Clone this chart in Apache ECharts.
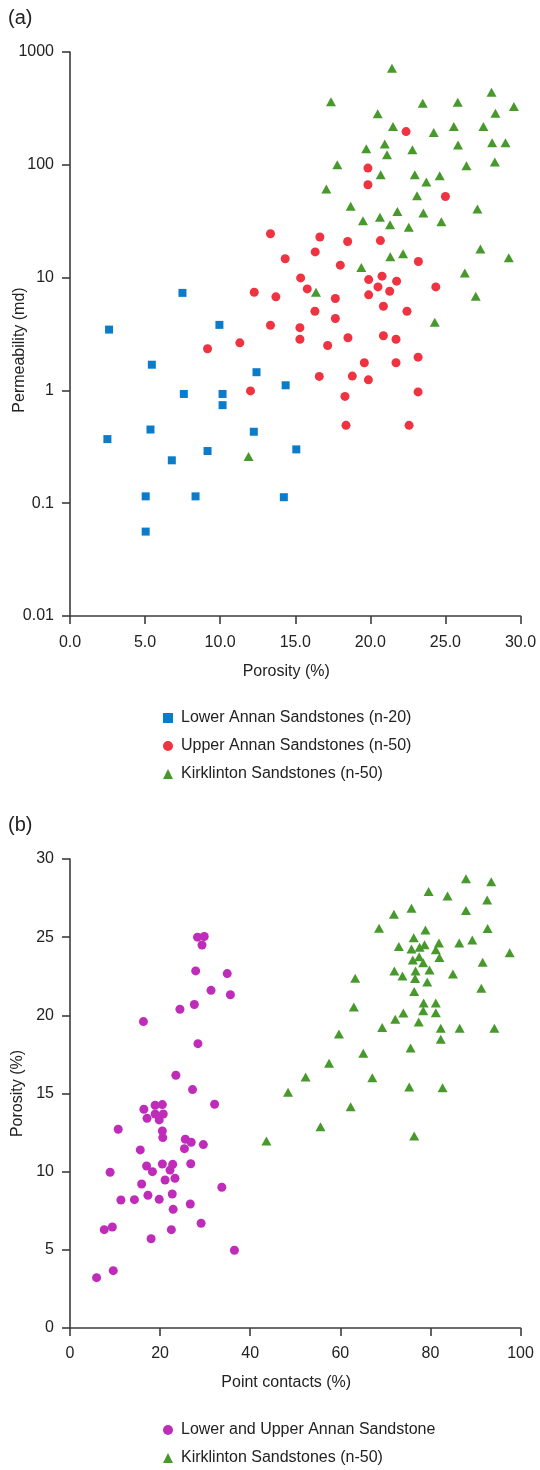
<!DOCTYPE html>
<html>
<head>
<meta charset="utf-8">
<script src="https://cdn.jsdelivr.net/npm/echarts@6/dist/echarts.min.js"></script>
<style>
  html, body { margin: 0; padding: 0; background: #fff; }
  #chart { width: 540px; height: 1470px; }
</style>
</head>
<body>
<div id="chart"></div>
<script>
// panel (a): porosity (%) vs permeability (md)
const lowerAnnan = [
  [2.6, 3.46], [9.95, 3.81], [5.45, 1.69], [12.42, 1.45], [7.58, 0.93], [10.16, 0.93],
  [10.16, 0.74], [2.49, 0.37], [5.36, 0.45], [12.24, 0.43], [9.16, 0.29], [6.78, 0.24],
  [5.04, 0.115], [8.36, 0.115], [5.04, 0.056], [7.49, 7.32], [14.36, 1.11], [15.07, 0.30],
  [14.24, 0.113]
]
const upperAnnan = [
  [22.38, 197], [19.84, 93.5], [19.84, 66.5], [25.0, 52.4], [13.35, 24.5], [16.64, 22.9],
  [18.49, 20.9], [20.67, 21.3], [16.33, 16.9], [14.33, 14.7], [18.0, 12.9], [23.2, 13.9],
  [15.36, 9.94], [19.89, 9.6], [20.78, 10.3], [21.75, 9.3], [15.8, 7.94], [20.51, 8.27],
  [24.36, 8.27], [12.27, 7.41], [13.71, 6.75], [17.67, 6.52], [19.89, 7.03], [21.29, 7.57],
  [16.31, 5.03], [20.87, 5.57], [22.44, 5.03], [17.67, 4.34], [13.35, 3.78], [15.31, 3.6],
  [15.31, 2.84], [17.16, 2.5], [18.51, 2.93], [20.87, 3.05], [21.71, 2.84], [23.18, 1.97],
  [19.6, 1.76], [21.71, 1.76], [16.6, 1.33], [18.8, 1.34], [19.87, 1.24], [18.31, 0.885],
  [23.18, 0.97], [18.38, 0.49], [22.58, 0.49], [9.16, 2.34], [11.31, 2.64], [12.02, 0.99]
]
const kirklintonA = [
  [21.44, 718], [17.38, 363], [23.49, 352], [25.82, 359], [28.07, 440], [29.56, 328],
  [28.33, 287], [20.49, 283], [21.51, 218], [24.22, 193], [25.56, 218], [27.53, 218],
  [19.73, 139], [20.96, 153], [21.11, 123], [22.8, 136], [25.84, 150], [28.11, 157],
  [29.0, 157], [17.8, 100], [26.4, 98], [28.29, 106], [20.69, 81.6], [22.96, 81.6],
  [24.62, 80], [23.73, 70.3], [17.07, 61], [23.11, 53.2], [18.69, 42.8], [21.8, 38.6],
  [23.53, 37.4], [27.13, 40.5], [19.51, 31.9], [20.64, 34.2], [21.31, 29.4], [22.56, 27.9],
  [24.73, 31.3], [21.33, 15.3], [22.18, 16.3], [19.4, 12.3], [27.33, 17.9], [29.22, 15.0],
  [26.29, 11.0], [27.02, 6.83], [16.38, 7.41], [24.29, 4.02], [11.89, 0.26]
]

// panel (b): point contacts (%) vs porosity (%)
const annanContacts = [
  [28.3, 25.0], [29.8, 25.04], [29.3, 24.5], [27.9, 22.84], [34.9, 22.67], [31.3, 21.6],
  [35.6, 21.32], [27.6, 20.69], [24.4, 20.39], [16.3, 19.6], [28.4, 18.19], [23.5, 16.17],
  [27.2, 15.25], [32.1, 14.31], [16.4, 13.99], [18.9, 14.25], [20.5, 14.29], [17.1, 13.41],
  [18.9, 13.69], [20.7, 13.69], [19.8, 13.31], [10.7, 12.71], [20.5, 12.6], [20.6, 12.18],
  [25.6, 12.07], [26.9, 11.88], [29.6, 11.73], [25.4, 11.47], [15.6, 11.39], [8.9, 9.96],
  [17.0, 10.36], [18.3, 10.0], [20.5, 10.49], [22.8, 10.47], [22.2, 10.1], [26.8, 10.51],
  [21.1, 9.47], [23.3, 9.58], [15.9, 9.21], [33.7, 9.0], [11.3, 8.19], [14.3, 8.21],
  [17.3, 8.49], [19.8, 8.23], [22.7, 8.57], [22.9, 7.59], [26.7, 7.93], [29.1, 6.7],
  [7.6, 6.29], [9.4, 6.46], [22.5, 6.29], [18.0, 5.71], [36.5, 4.97], [5.9, 3.22], [9.6, 3.67]
]
const kirklintonB = [
  [87.9, 28.73], [93.5, 28.54], [79.6, 27.92], [83.8, 27.64], [92.6, 27.38], [75.8, 26.85],
  [87.9, 26.7], [71.9, 26.47], [68.6, 25.57], [92.7, 25.55], [78.9, 25.46], [76.3, 24.97],
  [73.0, 24.4], [75.8, 24.25], [77.6, 24.36], [78.7, 24.52], [81.9, 24.63], [81.2, 24.2],
  [86.4, 24.63], [89.3, 24.82], [97.6, 24.01], [77.5, 23.74], [76.1, 23.54], [82.0, 23.7],
  [78.4, 23.37], [91.6, 23.4], [72.0, 22.84], [73.8, 22.52], [76.7, 22.84], [79.8, 22.9],
  [85.0, 22.65], [76.6, 22.35], [79.3, 22.14], [63.3, 22.37], [91.3, 21.73], [76.4, 21.52],
  [78.5, 20.79], [81.2, 20.79], [63.0, 20.54], [78.4, 20.3], [81.2, 20.17], [74.0, 20.15],
  [72.2, 19.75], [77.4, 19.58], [69.3, 19.22], [82.3, 19.17], [86.5, 19.17], [94.2, 19.17],
  [82.3, 18.47], [59.7, 18.81], [75.6, 17.91], [65.1, 17.57], [57.5, 16.94], [52.3, 16.06],
  [67.1, 16.01], [48.4, 15.08], [75.3, 15.42], [82.7, 15.37], [62.3, 14.16], [55.6, 12.88],
  [43.6, 11.96], [76.4, 12.28]
]

const permLabels = ['0.01', '0.1', '1', '10', '100', '1000']

const nameA = ['Lower Annan Sandstones (n-20)', 'Upper Annan Sandstones (n-50)', 'Kirklinton Sandstones (n-50)']
const nameB = ['Lower and Upper Annan Sandstone', 'Kirklinton Sandstones (n-50)']

const BLUE = '#0a7cc9'
const RED = '#ef3340'
const GREEN = '#47992c'
const MAGENTA = '#c02cba'
const INK = '#222'
const AXIS = '#3c3c3c'
const FONT = '"Liberation Sans", Arial, sans-serif'

function axisBase () {
  return {
    axisLine: { show: true, onZero: false, lineStyle: { color: AXIS, width: 1.6 } },
    axisTick: { show: true, length: 8, lineStyle: { color: AXIS, width: 1.6 } },
    splitLine: { show: false },
    axisLabel: { color: INK, fontSize: 16, fontFamily: FONT, margin: 16 },
    nameTextStyle: { color: INK, fontSize: 16, fontFamily: FONT }
  }
}

function merge (a, b) {
  const out = Object.assign({}, a)
  Object.keys(b).forEach(k => {
    if (b[k] && typeof b[k] === 'object' && !Array.isArray(b[k]) && a[k]) {
      out[k] = merge(a[k], b[k])
    } else {
      out[k] = b[k]
    }
  })
  return out
}

function legendBox (top, items) {
  return {
    orient: 'vertical', left: 163, top: top, padding: 0,
    itemWidth: 10, itemHeight: 10, itemGap: 8,
    data: items,
    textStyle: { color: INK, fontSize: 16, fontFamily: FONT, lineHeight: 20, padding: [0, 0, 0, 3] }
  }
}

const chart = echarts.init(document.getElementById('chart'), null, { renderer: 'canvas' })

chart.setOption({
  animation: false,
  backgroundColor: '#fff',
  grid: [
    { left: 70, top: 52, width: 450.5, height: 564, containLabel: false, outerBoundsMode: 'none' },
    { left: 70, top: 859, width: 450.5, height: 469, containLabel: false, outerBoundsMode: 'none' }
  ],
  xAxis: [
    merge(axisBase(), {
      gridIndex: 0, type: 'value', min: 0, max: 30, interval: 5,
      name: 'Porosity (%)', nameLocation: 'middle', nameGap: 48,
      nameTextStyle: { padding: [0, 18, 0, 0] },
      axisLabel: { formatter: v => v.toFixed(1), margin: 19 }
    }),
    merge(axisBase(), {
      gridIndex: 1, type: 'value', min: 0, max: 100, interval: 20,
      name: 'Point contacts (%)', nameLocation: 'middle', nameGap: 47,
      nameTextStyle: { padding: [0, 18, 0, 0] },
      axisLabel: { margin: 18 }
    })
  ],
  yAxis: [
    merge(axisBase(), {
      gridIndex: 0, type: 'log', logBase: 10, min: 0.01, max: 1000,
      axisLabel: { formatter: v => permLabels[Math.round(Math.log10(v)) + 2] }
    }),
    merge(axisBase(), {
      gridIndex: 1, type: 'value', min: 0, max: 30, interval: 5,
      name: 'Porosity (%)', nameLocation: 'middle', nameGap: 42
    })
  ],
  legend: [
    legendBox(708, [
      { name: nameA[0], icon: 'rect' },
      { name: nameA[1], icon: 'circle' },
      { name: nameA[2], icon: 'triangle' }
    ]),
    legendBox(1420, [
      { name: nameB[0], icon: 'circle' },
      { name: nameB[1], icon: 'triangle' }
    ])
  ],
  graphic: [
    { type: 'text', left: 8, top: 8, style: { text: '(a)', fontSize: 20, fontFamily: FONT, fill: INK } },
    { type: 'text', left: 8, top: 815, style: { text: '(b)', fontSize: 20, fontFamily: FONT, fill: INK } },
    // y-axis title of panel (a) sits a little below the plot centre in the original
    {
      type: 'text', x: 20, y: 350, rotation: Math.PI / 2,
      style: { text: 'Permeability (md)', fontSize: 16, fontFamily: FONT, fill: INK, align: 'center', verticalAlign: 'middle' }
    }
  ],
  series: [
    { name: nameA[0], type: 'scatter', xAxisIndex: 0, yAxisIndex: 0, symbol: 'rect', symbolSize: 8, itemStyle: { color: BLUE, opacity: 1 }, data: lowerAnnan },
    { name: nameA[1], type: 'scatter', xAxisIndex: 0, yAxisIndex: 0, symbol: 'circle', symbolSize: 9, itemStyle: { color: RED, opacity: 1 }, data: upperAnnan },
    { name: nameA[2], type: 'scatter', xAxisIndex: 0, yAxisIndex: 0, symbol: 'triangle', symbolSize: [10, 9], itemStyle: { color: GREEN, opacity: 1 }, data: kirklintonA },
    { name: nameB[0], type: 'scatter', xAxisIndex: 1, yAxisIndex: 1, symbol: 'circle', symbolSize: 9, itemStyle: { color: MAGENTA, opacity: 1 }, data: annanContacts },
    { name: nameB[1], type: 'scatter', xAxisIndex: 1, yAxisIndex: 1, symbol: 'triangle', symbolSize: [10, 9], itemStyle: { color: GREEN, opacity: 1 }, data: kirklintonB }
  ]
})
</script>
</body>
</html>
